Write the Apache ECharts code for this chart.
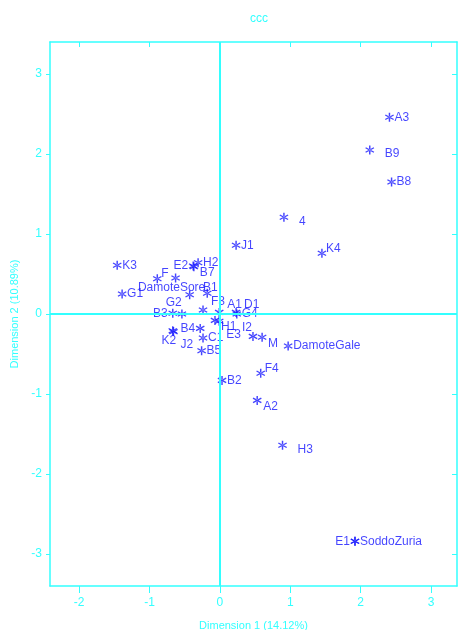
<!DOCTYPE html>
<html lang="en">
<head>
    <meta charset="UTF-8">
    <title>ccc</title>
    <script src="https://cdn.jsdelivr.net/npm/echarts@6.0.0/dist/echarts.min.js"></script>
    <style>
        html, body { margin: 0; padding: 0; background: #fff; }
        #chart { width: 458px; height: 630px; }
    </style>
</head>
<body>
<div id="chart"></div>
<script>
    // point names, coordinates and label clock positions
    var names = ['A3', 'B9', 'B8', '4', 'J1', 'K4', 'K3', 'E2', 'H2', 'B7',
        'F', 'DamoteSore', 'B1', 'G1', 'G2', 'F3', 'A1', 'D1', 'G4', 'B3',
        '', 'J2', 'B4', 'H1', 'E3', 'I2', 'M', 'K2', 'C1', 'B5',
        'DamoteGale', 'B2', 'F4', 'A2', 'H3', 'E1', 'SoddoZuria'];
    var dim1 = [2.41, 2.13, 2.44, 0.91, 0.23, 1.45, -1.46, -0.38, -0.31, -0.37,
        -0.89, -0.63, -0.18, -1.39, -0.43, -0.24, -0.01, 0.23, 0.24, -0.67,
        -0.54, -0.66, -0.28, -0.07, -0.01, 0.47, 0.60, -0.67, -0.24, -0.26,
        0.97, 0.03, 0.58, 0.53, 0.89, 1.92, 1.92];
    var dim2 = [2.46, 2.05, 1.65, 1.21, 0.86, 0.76, 0.61, 0.60, 0.64, 0.59,
        0.44, 0.45, 0.26, 0.25, 0.24, 0.05, 0.02, 0.02, 0.00, 0.01,
        0.00, -0.22, -0.18, -0.08, -0.09, -0.28, -0.29, -0.21, -0.30, -0.46,
        -0.40, -0.83, -0.74, -1.08, -1.64, -2.84, -2.84];
    var labPos = ['3', '4', '3', '4', '3', '2', '3', '9', '3', '5',
        '2', '6', '12', '3', '7', '1', '1', '1', '3', '9',
        '3', '5L', '9', '5', '5L', '11', '5', '6', '3', '3',
        '3', '3', '2', '5', '4', '9', '3'];
    var xTicks = [-2, -1, 0, 1, 2, 3];
    var yTicks = [-3, -2, -1, 0, 1, 2, 3];

    var cyan = '#3ff';
    var blue = '#1515ff';

    // clock position -> [align, verticalAlign, offset]
    var clock = {
        '1': ['left', 'bottom', [8, -2]],
        '2': ['left', 'bottom', [4, 1]],
        '3': ['left', 'middle', [5, 0]],
        '4': ['left', 'top', [15, -2]],
        '5': ['left', 'top', [6, 0]],
        '5L': ['left', 'top', [7, 7]],
        '6': ['center', 'top', [-4, 4]],
        '7': ['right', 'top', [-8, 2]],
        '9': ['right', 'middle', [-5, 0]],
        '11': ['right', 'bottom', [-1, -3]],
        '12': ['center', 'bottom', [3, 0]]
    };

    var star = 'path://M-0.15,-1L0.15,-1L0.15,1L-0.15,1Z' +
        'M0.79,0.62L0.93,0.38L-0.79,-0.62L-0.93,-0.38Z' +
        'M0.93,-0.38L0.79,-0.62L-0.93,0.38L-0.79,0.62Z';

    var points = names.map(function (n, i) {
        var c = clock[labPos[i]];
        return {
            name: n,
            value: [dim1[i], dim2[i]],
            label: { align: c[0], verticalAlign: c[1], offset: c[2] }
        };
    });

    var myChart = echarts.init(document.getElementById('chart'));
    var font = '"Liberation Sans", Arial, sans-serif';
    var option = {
        animation: false,
        title: {
            text: 'ccc',
            left: 254,
            textAlign: 'center',
            top: 8,
            textStyle: { color: cyan, fontSize: 12, fontWeight: 'normal', fontFamily: font }
        },
        grid: { left: 50, right: 1, top: 42, bottom: 44, outerBoundsMode: 'none', containLabel: false },
        xAxis: [{
            type: 'value',
            position: 'bottom',
            min: -2.415,
            max: 3.37,
            name: 'Dimension 1 (14.12%)',
            nameLocation: 'middle',
            nameGap: 34,
            nameTextStyle: { color: cyan, fontSize: 11, fontFamily: font },
            axisLine: { show: true, onZero: false, lineStyle: { color: cyan, width: 1.5 } },
            axisTick: { show: true, length: 7, customValues: xTicks, lineStyle: { color: cyan } },
            axisLabel: { color: cyan, fontSize: 12, margin: 11, fontFamily: font, customValues: xTicks },
            splitLine: { show: false }
        }, {
            type: 'value',
            position: 'top',
            min: -2.415,
            max: 3.37,
            axisLine: { show: true, onZero: false, lineStyle: { color: cyan, width: 1.5 } },
            axisTick: { show: true, inside: true, length: 5, customValues: xTicks, lineStyle: { color: cyan } },
            axisLabel: { show: false },
            splitLine: { show: false }
        }],
        yAxis: [{
            type: 'value',
            position: 'left',
            min: -3.4,
            max: 3.4,
            name: 'Dimension 2 (10.89%)',
            nameLocation: 'middle',
            nameGap: 30,
            nameTextStyle: { color: cyan, fontSize: 11, fontFamily: font },
            axisLine: { show: true, onZero: false, lineStyle: { color: cyan, width: 1.5 } },
            axisTick: { show: true, length: 4, customValues: yTicks, lineStyle: { color: cyan } },
            axisLabel: { color: cyan, fontSize: 12, margin: 8, fontFamily: font, customValues: yTicks },
            splitLine: { show: false }
        }, {
            type: 'value',
            position: 'right',
            min: -3.4,
            max: 3.4,
            axisLine: { show: true, onZero: false, lineStyle: { color: cyan, width: 1.5 } },
            axisTick: { show: true, inside: true, length: 5, customValues: yTicks, lineStyle: { color: cyan } },
            axisLabel: { show: false },
            splitLine: { show: false }
        }],
        series: [{
            type: 'scatter',
            symbol: star,
            symbolSize: 9,
            itemStyle: { color: blue },
            label: {
                show: true,
                position: 'inside',
                formatter: '{b}',
                color: blue,
                fontSize: 12,
                fontFamily: font
            },
            markLine: {
                silent: true,
                symbol: 'none',
                label: { show: false },
                lineStyle: { color: cyan, width: 2, type: 'solid' },
                data: [{ xAxis: 0 }, { yAxis: 0 }]
            },
            data: points
        }]
    };
    myChart.setOption(option);

    window.onresize = function () {
        myChart.resize();
    };
</script>
</body>
</html>
